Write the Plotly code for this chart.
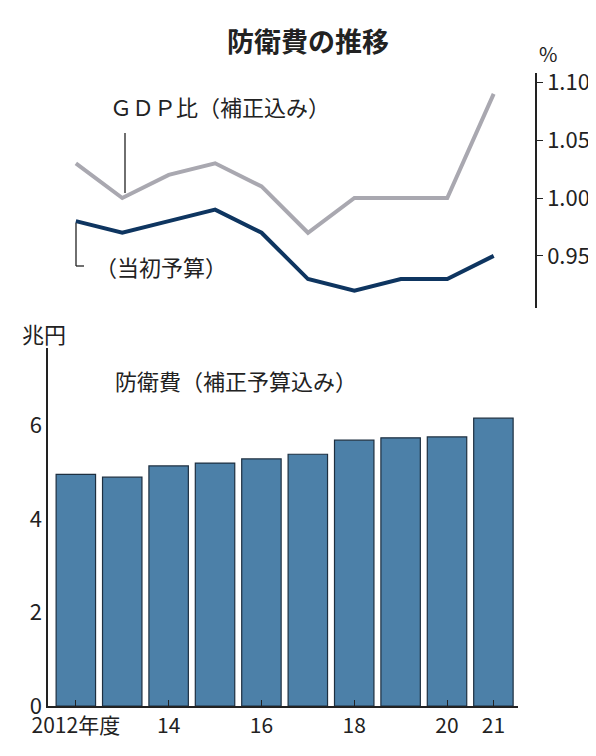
import plotly.graph_objects as go

years = list(range(2012, 2022))
gdp_supp = [1.03, 1.00, 1.02, 1.03, 1.01, 0.97, 1.00, 1.00, 1.00, 1.09]
gdp_init = [0.98, 0.97, 0.98, 0.99, 0.97, 0.93, 0.92, 0.93, 0.93, 0.95]
budget = [4.95, 4.89, 5.13, 5.19, 5.28, 5.38, 5.68, 5.73, 5.75, 6.15]
x_ticks = [2012, 2014, 2016, 2018, 2020, 2021]
x_labels = ["2012年度", "14", "16", "18", "20", "21"]

W, H = 596, 756
F = "Noto Sans CJK JP"
def px(x): return x / W
def py(y): return 1 - y / H

fig = go.Figure()
fig.add_trace(go.Bar(x=years, y=budget, marker=dict(color="#4c80a8", line=dict(color="#1d2f40", width=1.2)),
                     width=0.85, xaxis="x", yaxis="y"))
fig.add_trace(go.Scatter(x=years, y=gdp_supp, mode="lines", line=dict(color="#a9a8b0", width=4),
                         xaxis="x2", yaxis="y2"))
fig.add_trace(go.Scatter(x=years, y=gdp_init, mode="lines", line=dict(color="#0e3560", width=4),
                         xaxis="x2", yaxis="y2"))

fig.update_layout(
    width=W, height=H, margin=dict(l=0, r=0, t=0, b=0, autoexpand=False), showlegend=False,
    paper_bgcolor="white", plot_bgcolor="white", font=dict(family=F, color="#222"),
    xaxis=dict(domain=[px(40), px(510)], range=[2011.4, 2021.53], tickvals=x_ticks, ticktext=x_labels,
               ticks="inside", ticklen=6, tickcolor="#222", showline=True, linecolor="#222", linewidth=1.5,
               tickfont=dict(size=21), showgrid=False, automargin=False),
    yaxis=dict(domain=[py(698), py(340)], range=[0, 7.65], tickvals=[0, 2, 4, 6], ticks="",
               showline=True, linecolor="#222", linewidth=1.5, showgrid=False, zeroline=False,
               tickfont=dict(size=22), automargin=False),
    xaxis2=dict(domain=[px(40), px(527)], range=[2011.4, 2021.89], visible=False, anchor="y2", automargin=False),
    yaxis2=dict(domain=[py(300), py(65)], range=[0.905, 1.108], side="right", anchor="x2",
                tickvals=[0.95, 1.00, 1.05, 1.10], ticktext=["0.95", "1.00", "1.05", "1.10"],
                ticks="outside", ticklen=6, tickcolor="#222", showline=True, linecolor="#222", linewidth=1.5,
                showgrid=False, zeroline=False, tickfont=dict(size=22), automargin=False),
)

ann = [
    (300, 32, "<b>防衛費の推移</b>", 27, "center"),
    (540, 45, "%", 20, "center"),
    (100, 98, "ＧＤＰ比（補正込み）", 22, "left"),
    (85, 258, "（当初予算）", 22, "left"),
    (12, 325, "兆円", 22, "left"),
    (105, 372, "防衛費（補正予算込み）", 22, "left"),
]
for x, y, t, s, a in ann:
    fig.add_annotation(x=px(x), y=py(y), xref="paper", yref="paper", text=t, showarrow=False,
                       font=dict(size=s, family=F, color="#222"), xanchor=a, yanchor="middle")

for x0, y0, x1, y1 in [(117, 125, 117, 185), (68, 215, 68, 258), (68, 258, 76, 258)]:
    fig.add_shape(type="line", xref="paper", yref="paper", x0=px(x0), y0=py(y0), x1=px(x1), y1=py(y1),
                  line=dict(color="#222", width=1.3))

fig.write_html("out.html")
